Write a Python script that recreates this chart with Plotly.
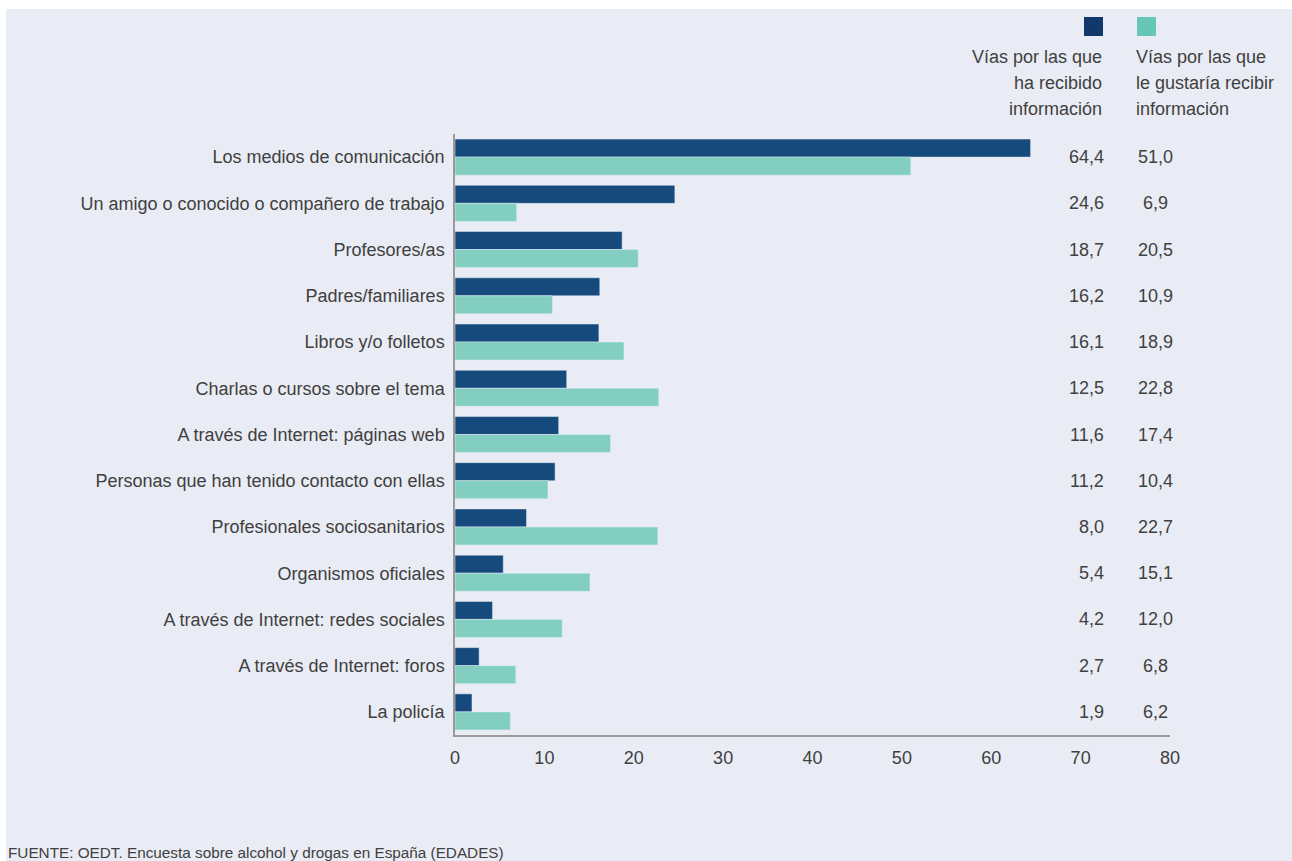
import plotly.graph_objects as go

categories = [
    "Los medios de comunicación",
    "Un amigo o conocido o compañero de trabajo",
    "Profesores/as",
    "Padres/familiares",
    "Libros y/o folletos",
    "Charlas o cursos sobre el tema",
    "A través de Internet: páginas web",
    "Personas que han tenido contacto con ellas",
    "Profesionales sociosanitarios",
    "Organismos oficiales",
    "A través de Internet: redes sociales",
    "A través de Internet: foros",
    "La policía",
]
recibido = [64.4, 24.6, 18.7, 16.2, 16.1, 12.5, 11.6, 11.2, 8.0, 5.4, 4.2, 2.7, 1.9]
gustaria = [51.0, 6.9, 20.5, 10.9, 18.9, 22.8, 17.4, 10.4, 22.7, 15.1, 12.0, 6.8, 6.2]
legend_lines_1 = ["Vías por las que", "ha recibido", "información"]
legend_lines_2 = ["Vías por las que", "le gustaría recibir", "información"]
x_ticks = [0, 10, 20, 30, 40, 50, 60, 70, 80]

NAVY = "#174a7c"
TEAL = "#82cfc2"
BG = "#e9ecf4"
TXT = "#404040"
FONT = "Liberation Sans"
FS = 18

W, H = 1292, 861
L, R, T, B = 455, 122, 134, 126
PW = W - L - R
PH = H - T - B

def px_x(p):
    return (p - L) / PW

def px_y(p):
    return 1 - (p - T) / PH

fig = go.Figure()
fig.add_trace(go.Bar(y=categories, x=recibido, orientation="h", marker_color=NAVY,
                     name="recibido", offsetgroup="a"))
fig.add_trace(go.Bar(y=categories, x=gustaria, orientation="h", marker_color=TEAL,
                     name="gustaria", offsetgroup="b"))

annotations = []
fmt = lambda v: f"{v:.1f}".replace(".", ",")
for c, a, b in zip(categories, recibido, gustaria):
    annotations.append(dict(x=px_x(1106), xref="paper", y=c, yref="y", text=fmt(a),
                            showarrow=False, xanchor="right", yanchor="middle",
                            font=dict(size=FS, color=TXT, family=FONT)))
    annotations.append(dict(x=px_x(1155), xref="paper", y=c, yref="y", text=fmt(b),
                            showarrow=False, xanchor="center", yanchor="middle",
                            font=dict(size=FS, color=TXT, family=FONT)))

# legend text, one annotation per line
for i, yy in enumerate([57, 83, 109]):
    annotations.append(dict(x=px_x(1104), xref="paper", y=px_y(yy), yref="paper",
                            text=legend_lines_1[i], showarrow=False, xanchor="right",
                            yanchor="middle", font=dict(size=FS, color=TXT, family=FONT)))
    annotations.append(dict(x=px_x(1134), xref="paper", y=px_y(yy), yref="paper",
                            text=legend_lines_2[i], showarrow=False, xanchor="left",
                            yanchor="middle", font=dict(size=FS, color=TXT, family=FONT)))
# source
annotations.append(dict(x=px_x(6), xref="paper", y=px_y(852), yref="paper",
                        text="FUENTE: OEDT. Encuesta sobre alcohol y drogas en España (EDADES)",
                        showarrow=False, xanchor="left", yanchor="middle",
                        font=dict(size=15.3, color=TXT, family=FONT)))

shapes = [
    dict(type="rect", xref="paper", yref="paper", x0=px_x(6), x1=px_x(1300),
         y0=px_y(9), y1=px_y(870), fillcolor=BG, line_width=0, layer="below"),
    dict(type="rect", xref="paper", yref="paper", x0=px_x(1084), x1=px_x(1103),
         y0=px_y(17), y1=px_y(36), fillcolor="#12386b", line_width=0),
    dict(type="rect", xref="paper", yref="paper", x0=px_x(1137), x1=px_x(1156),
         y0=px_y(17), y1=px_y(36), fillcolor="#67c6b6", line_width=0),
]

fig.update_layout(
    width=W, height=H,
    margin=dict(l=L, r=R, t=T, b=B, pad=0),
    paper_bgcolor="white",
    plot_bgcolor=BG,
    barmode="group",
    bargap=0.22,
    bargroupgap=0,
    showlegend=False,
    font=dict(family=FONT, size=FS, color=TXT),
    annotations=annotations,
    shapes=shapes,
    xaxis=dict(range=[0, 80], tickvals=x_ticks, ticktext=[str(v) for v in x_ticks],
               showgrid=False, zeroline=False, showline=True, linecolor="#9a9a9a",
               linewidth=1.5, ticks="", ticklabelstandoff=6,
               tickfont=dict(size=FS, color=TXT, family=FONT)),
    yaxis=dict(autorange="reversed", showgrid=False, zeroline=False, showline=True,
               linecolor="#9a9a9a", linewidth=1.5, ticks="", ticklabelstandoff=5,
               tickfont=dict(size=FS, color=TXT, family=FONT)),
)

fig.write_html("out.html", config={"displayModeBar": False},
               post_script="document.body.style.margin='0';document.body.style.overflow='hidden';")
